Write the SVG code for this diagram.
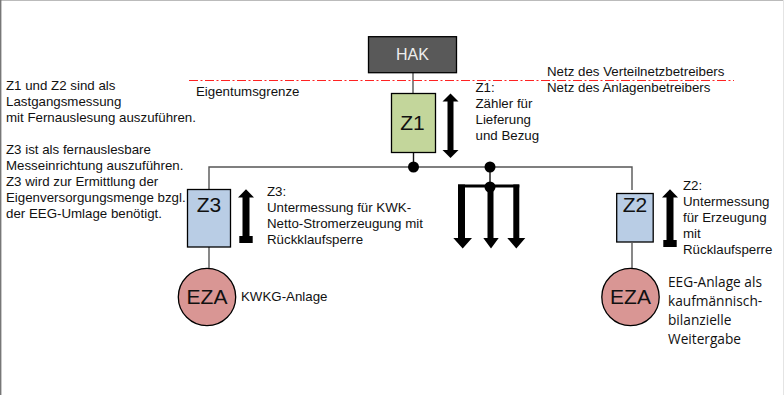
<svg xmlns="http://www.w3.org/2000/svg" width="784" height="395" viewBox="0 0 784 395">
<style>
text{font-family:"Liberation Sans",Arial,sans-serif;fill:#111}
.t{font-size:13.3px}
.c{text-anchor:middle}
.l{font-size:21px}
.m{stroke:#000;stroke-width:1.3}
.w{fill:none;stroke:#555;stroke-width:1.4}
.k{fill:none;stroke:#111;stroke-width:1.4}
.o{font-family:"Open Sans","Noto Sans",sans-serif;font-size:13.7px}
</style>
<rect width="784" height="395" fill="#fff"/>
<path d="M0 .5H784" stroke="#bbb" stroke-width="1"/>
<path d="M.7 0V395" stroke="#777" stroke-width="1.4"/>
<path d="M783.5 0V395" stroke="#e4e4e4"/>
<g id="connectors">
<path class="w" d="M413 72V94"/>
<path class="k" d="M413.5 152V167"/>
<path class="w" d="M209 189V167H632V190"/>
<path class="w" d="M209 247V268"/>
<path class="w" d="M632 243V268"/>
<path class="k" d="M490 167V187"/>
<path d="M189 80.5H734" fill="none" stroke="#f22" stroke-width="1" stroke-dasharray="9 2.5 2 2.5"/>
<circle cx="413.5" cy="167" r="5.5"/>
<circle cx="490" cy="167" r="5.5"/>
<circle cx="490" cy="187" r="5.5"/>
</g>
<g id="fork">
<path d="M458 184.500H519.300V187.500H458Z"/>
<path d="M458 184.500H465V238H472L462.700 248.500L453.300 238H458Z"/>
<path d="M487.500 187H493.500V238H498.700L491 248.500L483.300 238H487.500Z"/>
<path d="M513.300 184.500H519.300V238H525.300L516.300 248.500L507.300 238H513.300Z"/>
</g>
<g id="hak"><rect class="m" x="368.500" y="36.700" width="88" height="36" fill="#595959"/><text class="c" x="412.500" y="60" font-size="16" style="fill:#eee">HAK</text></g>
<g id="z1"><rect class="m" x="391.500" y="93.500" width="44" height="59" fill="#c3d69b"/><text class="c l" x="412.500" y="130">Z1</text>
<path d="M450.500 93.500L458.500 101.500H453.500V150H458.500L450.500 158L442.500 150H447.500V101.500H442.500Z"/>
<text class="t" x="475.500" y="92">Z1:</text><text class="t" x="475.500" y="108">Zähler für</text><text class="t" x="475.500" y="124">Lieferung</text><text class="t" x="475.500" y="140">und Bezug</text></g>
<g id="z3"><rect class="m" x="187.500" y="189.500" width="43" height="57.500" fill="#b9cde5"/><text class="c l" x="209" y="212">Z3</text>
<path d="M246 189.300L254 197.500H249.500V236H252.700V243H239.300V236H242.500V197.500H238Z"/>
<text class="t" x="267" y="196">Z3:</text><text class="t" x="267" y="212">Untermessung für KWK-</text><text class="t" x="267" y="228">Netto-Stromerzeugung mit</text><text class="t" x="267" y="244">Rückklaufsperre</text></g>
<g id="z2"><rect class="m" x="616.700" y="193.500" width="36.500" height="48.500" fill="#b9cde5"/><text class="c l" x="635" y="212">Z2</text>
<path d="M670 189.300L678 197.500H673.500V240H676.700V247H663.300V240H666.500V197.500H662Z"/>
<text class="t" x="683" y="190">Z2:</text><text class="t" x="683" y="206">Untermessung</text><text class="t" x="683" y="222">für Erzeugung</text><text class="t" x="683" y="238">mit</text><text class="t" x="683" y="254">Rücklaufsperre</text></g>
<g id="eza1"><circle class="m" cx="207" cy="297" r="28.700" fill="#d99694"/><text class="c l" x="207" y="304">EZA</text><text class="t" x="241" y="301">KWKG-Anlage</text></g>
<g id="eza2"><circle class="m" cx="630.500" cy="297" r="28.700" fill="#d99694"/><text class="c l" x="630.500" y="304">EZA</text>
<text class="o" x="668" y="287">EEG-Anlage als</text><text class="o" x="668" y="306">kaufmännisch-</text><text class="o" x="668" y="325">bilanzielle</text><text class="o" x="668" y="344">Weitergabe</text></g>
<g id="notes">
<text class="t" x="6" y="90">Z1 und Z2 sind als</text><text class="t" x="6" y="106">Lastgangsmessung</text><text class="t" x="6" y="122">mit Fernauslesung auszuführen.</text>
<text class="t" x="6" y="154">Z3 ist als fernauslesbare</text><text class="t" x="6" y="170">Messeinrichtung auszuführen.</text><text class="t" x="6" y="186">Z3 wird zur Ermittlung der</text><text class="t" x="6" y="202">Eigenversorgungsmenge bzgl.</text><text class="t" x="6" y="218">der EEG-Umlage benötigt.</text>
<text class="t" x="196" y="96">Eigentumsgrenze</text>
<text class="t" x="547" y="76">Netz des Verteilnetzbetreibers</text><text class="t" x="547" y="92">Netz des Anlagenbetreibers</text>
</g>
</svg>
